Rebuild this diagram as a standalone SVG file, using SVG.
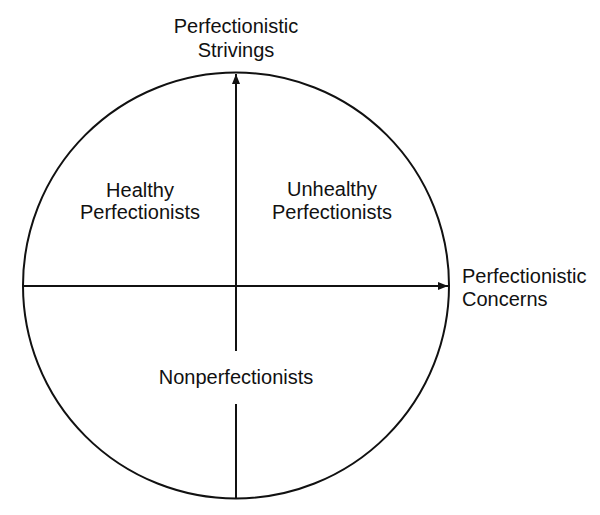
<svg xmlns="http://www.w3.org/2000/svg" width="600" height="515" viewBox="0 0 600 515">
  <style>
    .lbl { font-family: "Liberation Sans", Arial, sans-serif; font-size: 20px; fill: #111; }
    .ln { stroke: #111; stroke-width: 2; fill: none; }
  </style>
  <defs>
    <marker id="arrow" viewBox="0 0 10 8" refX="10" refY="4" markerWidth="10" markerHeight="8" markerUnits="userSpaceOnUse" orient="auto">
      <path d="M0,0 L10,4 L0,8 Z" fill="#111"/>
    </marker>
  </defs>
  <rect width="600" height="515" fill="#fff"/>
  <g id="circle">
    <circle cx="236" cy="285.5" r="213" class="ln"/>
  </g>
  <g id="connectors">
    <line x1="22" y1="286" x2="448" y2="286" class="ln" marker-end="url(#arrow)"/>
    <line x1="236" y1="351" x2="236" y2="74" class="ln" marker-end="url(#arrow)"/>
    <line x1="236" y1="404" x2="236" y2="498" class="ln"/>
  </g>
  <g id="strivings">
    <text class="lbl" x="236" y="33" text-anchor="middle">Perfectionistic</text>
    <text class="lbl" x="236" y="57" text-anchor="middle">Strivings</text>
  </g>
  <g id="concerns">
    <text class="lbl" x="462" y="283">Perfectionistic</text>
    <text class="lbl" x="462" y="306">Concerns</text>
  </g>
  <g id="healthy">
    <text class="lbl" x="140" y="197" text-anchor="middle">Healthy</text>
    <text class="lbl" x="140" y="219" text-anchor="middle">Perfectionists</text>
  </g>
  <g id="unhealthy">
    <text class="lbl" x="332" y="196" text-anchor="middle">Unhealthy</text>
    <text class="lbl" x="332" y="219" text-anchor="middle">Perfectionists</text>
  </g>
  <g id="nonperfectionists">
    <text class="lbl" x="236" y="384" text-anchor="middle">Nonperfectionists</text>
  </g>
</svg>
